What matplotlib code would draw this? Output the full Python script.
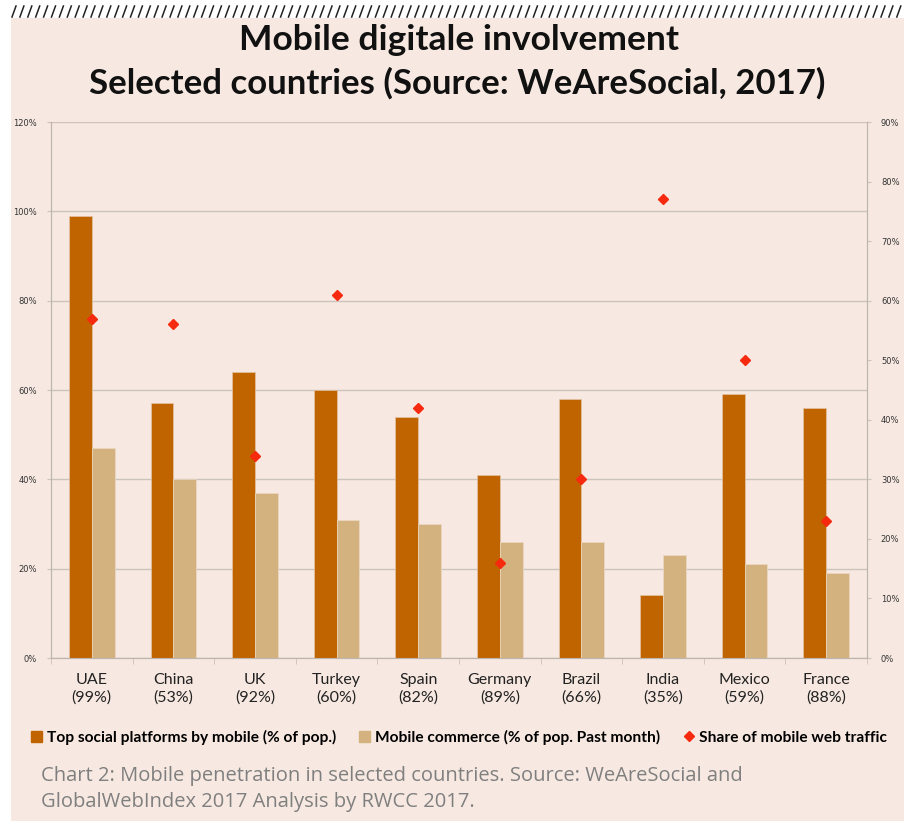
import matplotlib.pyplot as plt
import numpy as np
from matplotlib.lines import Line2D
from matplotlib.patches import Rectangle

# Data
countries = ["UAE", "China", "UK", "Turkey", "Spain", "Germany", "Brazil", "India", "Mexico", "France"]
penetration = ["99%", "53%", "92%", "60%", "82%", "89%", "66%", "35%", "59%", "88%"]
social_mobile = [99, 57, 64, 60, 54, 41, 58, 14, 59, 56]
mobile_commerce = [47, 40, 37, 31, 30, 26, 26, 23, 21, 19]
web_traffic_share = [57, 56, 34, 61, 42, 16, 30, 77, 50, 23]

BG = "#F7E9E1"
ORANGE = "#C06400"
BEIGE = "#D4B27F"
RED = "#F52A0E"
GRID = "#CCC3BC"
W, H = 911, 821

fig = plt.figure(figsize=(W / 100, H / 100), dpi=100)
fig.patch.set_facecolor("white")

# pink panel behind everything
fig.add_artist(Rectangle((11 / W, 0), (904 - 11) / W, (H - 18) / H,
                         transform=fig.transFigure, facecolor=BG, edgecolor="none", zorder=-10))

# hatched strip along the top
for x0 in np.arange(12, 904, 7.9):
    fig.add_artist(Line2D([x0 / W, (x0 + 4) / W], [1 - 17 / H, 1 - 6 / H],
                          transform=fig.transFigure, color="#222222", lw=1.1))

# title
title_font = ["Lato", "DejaVu Sans"]
fig.text(459 / W, 1 - 40 / H, "Mobile digitale involvement", ha="center", va="center",
         fontsize=25.5, fontweight="bold", family=title_font, color="#111111")
fig.text(457 / W, 1 - 83 / H, "Selected countries (Source: WeAreSocial, 2017)", ha="center", va="center",
         fontsize=25, fontweight="bold", family=title_font, color="#111111")

ax = fig.add_axes([51 / W, 1 - 658 / H, 816 / W, 536 / H])
ax.set_facecolor("none")

x = np.arange(len(countries))
width = 0.28
ax.bar(x - width / 2, social_mobile, width, color=ORANGE, edgecolor="#E2C4A6", linewidth=0.5,
       label="Top social platforms by mobile (% of pop.)", zorder=3)
ax.bar(x + width / 2, mobile_commerce, width, color=BEIGE, edgecolor="#EBD9C4", linewidth=0.5,
       label="Mobile commerce (% of pop. Past month)", zorder=3)

ax.set_xlim(-0.5, len(countries) - 0.5)
ax.set_ylim(0, 120)
ax.set_yticks(np.arange(0, 121, 20))
ax.set_yticklabels([f"{v}%" for v in range(0, 121, 20)])
ax.yaxis.grid(True, color=GRID, lw=1.0, zorder=0)
ax.set_axisbelow(True)

ax.set_xticks(x)
ax.set_xticklabels([f"{c}\n({p})" for c, p in zip(countries, penetration)],
                   fontsize=11.5, family=["Lato", "DejaVu Sans"], color="#222222", linespacing=1.3)
ax.tick_params(axis="x", length=0, pad=11)
ax.set_xticks(np.arange(-0.5, len(countries), 1), minor=True)
ax.tick_params(axis="x", which="minor", length=4, color=GRID, direction="out")
ax.tick_params(axis="y", length=3, color=GRID, labelsize=6, labelcolor="#333333", pad=7)

for side in ["top"]:
    ax.spines[side].set_visible(False)
for side in ["left", "right", "bottom"]:
    ax.spines[side].set_color("#BDB5AE")

ax2 = ax.twinx()
ax2.plot(x, web_traffic_share, linestyle="none", marker="D", markersize=5.5,
         color=RED, label="Share of mobile web traffic", zorder=5)
ax2.set_ylim(0, 90)
ax2.set_yticks(np.arange(0, 91, 10))
ax2.set_yticklabels([f"{v}%" for v in range(0, 91, 10)])
ax2.tick_params(axis="y", length=3, color=GRID, labelsize=6, labelcolor="#333333", pad=7)
ax2.spines["top"].set_visible(False)
for side in ["left", "right", "bottom"]:
    ax2.spines[side].set_color("#BDB5AE")

# legend
handles = [
    Rectangle((0, 0), 1, 1, color=ORANGE),
    Rectangle((0, 0), 1, 1, color=BEIGE),
    Line2D([], [], linestyle="none", marker="D", markersize=5.5, color=RED),
]
labels = ["Top social platforms by mobile (% of pop.)",
          "Mobile commerce (% of pop. Past month)",
          "Share of mobile web traffic"]
fig.legend(handles, labels, loc="center", bbox_to_anchor=(459 / W, 1 - 737 / H), ncol=3,
           frameon=False, handlelength=0.7, handleheight=0.7, handletextpad=0.3, columnspacing=1.5,
           prop={"family": ["Lato", "DejaVu Sans"], "size": 11.2, "weight": "bold"})

# caption
cap_font = ["Open Sans", "DejaVu Sans"]
fig.text(41 / W, 1 - 776 / H,
         "Chart 2: Mobile penetration in selected countries. Source: WeAreSocial and",
         ha="left", va="center", fontsize=14.5, family=cap_font, color="#7F7F7F")
fig.text(41 / W, 1 - 802 / H, "GlobalWebIndex 2017 Analysis by RWCC 2017.",
         ha="left", va="center", fontsize=14.5, family=cap_font, color="#7F7F7F")

fig.savefig("out.png", dpi=100, facecolor=fig.get_facecolor())
